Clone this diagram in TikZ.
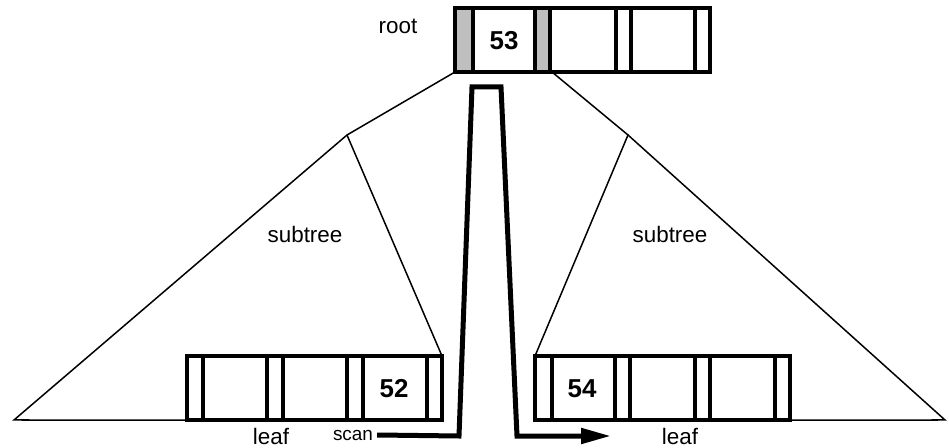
\documentclass[tikz,border=0pt]{standalone}
\usepackage{fontspec}
\setmainfont{Liberation Sans}
\usetikzlibrary{arrows.meta}
\begin{document}
\begin{tikzpicture}[x=1bp,y=-1bp,
  box/.style={draw, line width=3.6bp, inner sep=0, outer sep=0},
  divider/.style={line width=3.6bp},
  edge/.style={line width=1.5bp},
  scanline/.style={line width=5bp, line join=miter},
  lbl/.style={font=\fontsize{22.5}{26}\selectfont, inner sep=0},
  key/.style={font=\fontsize{26}{30}\selectfont\bfseries, inner sep=0},
  small/.style={font=\fontsize{19}{22}\selectfont, inner sep=0}]
\useasboundingbox (0,0) rectangle (949,448);

% root node: shaded pointer slots
\fill[gray!50] (455,8) rectangle (473,72);
\fill[gray!50] (535,8) rectangle (550,72);
\node[box, minimum width=255bp, minimum height=64bp] (root) at (582.5,40) {};
\foreach \x in {473,535,550,616,631,695}
  \draw[divider] (\x,8) -- (\x,72);
\node[key] (k53) at (504,41) {53};
\node[lbl] (rootlbl) at (398,26) {root};

% leaf nodes
\node[box, minimum width=255bp, minimum height=64bp] (leafL) at (314.5,388) {};
\foreach \x in {203,267,283,347,363,427}
  \draw[divider] (\x,356) -- (\x,420);
\node[key] (k52) at (394,389) {52};

\node[box, minimum width=255bp, minimum height=64bp] (leafR) at (662.5,388) {};
\foreach \x in {552,615,630,695,710,775}
  \draw[divider] (\x,356) -- (\x,420);
\node[key] (k54) at (582,389) {54};

% subtree outlines
\coordinate (apexL) at (347,135);
\coordinate (apexR) at (628,135);
\coordinate (baseL) at (14,420);
\coordinate (baseR) at (945,420);
\coordinate (rootR) at (552,72);
\draw[edge] (root.south west) -- (apexL) -- (baseL) -- (leafL.south west);
\draw[edge] (apexL) -- (leafL.north east);
\draw[edge] (rootR) -- (apexR) -- (leafR.north west);
\draw[edge] (apexR) -- (baseR) -- (leafR.south east);

\node[lbl] (subL) at (305,234) {subtree};
\node[lbl] (subR) at (670,234) {subtree};
\node[lbl] (leafLlbl) at (271,436) {leaf};
\node[lbl] (leafRlbl) at (680,436) {leaf};

% scan path
\node[small] (scan) at (353,435) {scan};
\coordinate (s1) at (459,436);
\coordinate (s2) at (472,87);
\coordinate (s3) at (501,87);
\coordinate (s4) at (517,436);
\coordinate (s5) at (611,436);
\draw[scanline, -{Triangle[length=30bp,width=15bp]}]
  ([xshift=4bp]scan.east) -- (s1) -- (s2) -- (s3) -- (s4) -- (s5);
\end{tikzpicture}
\end{document}
